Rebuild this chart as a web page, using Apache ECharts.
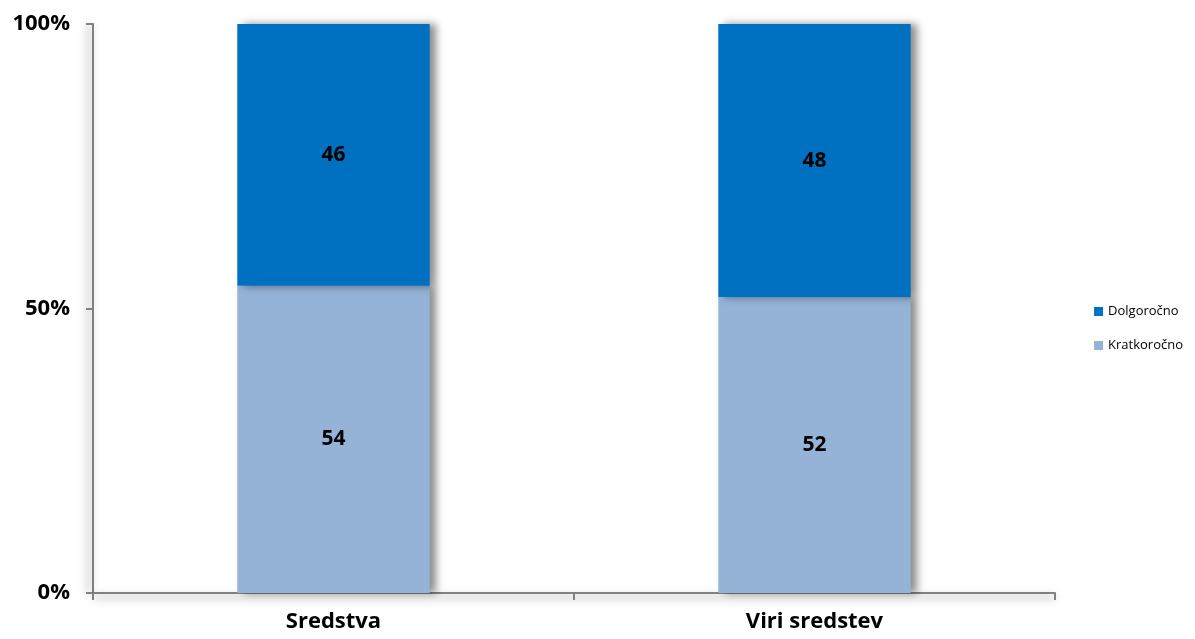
<!DOCTYPE html>
<html><head><meta charset="utf-8">
<script src="https://cdn.jsdelivr.net/npm/echarts@6/dist/echarts.min.js"></script>
<style>html,body{margin:0;padding:0;background:#fff}#c{width:1195px;height:639px}</style>
</head><body><div id="c"></div>
<script>
const categories = ['Sredstva', 'Viri sredstev'];
const kratkorocno = [54, 52];
const dolgorocno = [46, 48];
const yTicks = [0, 50, 100];

const chart = echarts.init(document.getElementById('c'));
const font = '"Open Sans", sans-serif';
const shadow = {shadowColor: 'rgba(0,0,0,0.45)', shadowBlur: 8, shadowOffsetX: 6, shadowOffsetY: 0};
chart.setOption({
  animation: false,
  grid: {left: 93, right: 140, top: 24, bottom: 46},
  legend: {
    orient: 'vertical', right: 7, top: 300, itemWidth: 9, itemHeight: 9, itemGap: 21, icon: 'rect',
    textStyle: {fontFamily: font, fontSize: 13, color: '#000'},
    data: ['Dolgoročno', 'Kratkoročno']
  },
  xAxis: {
    type: 'category', data: categories,
    axisLine: {lineStyle: {color: '#808080', width: 2, ...shadow, shadowOffsetX: 0, shadowOffsetY: 4}},
    axisTick: {show: true, length: 7, lineStyle: {color: '#808080', width: 2}},
    axisLabel: {fontFamily: font, fontWeight: 'bold', fontSize: 22, color: '#000', margin: 18}
  },
  yAxis: {
    type: 'value', min: 0, max: 100, interval: 50,
    axisLine: {show: true, lineStyle: {color: '#808080', width: 2, ...shadow, shadowOffsetX: -4}},
    axisTick: {show: true, length: 7, lineStyle: {color: '#808080', width: 2}},
    splitLine: {show: false},
    axisLabel: {fontFamily: font, fontWeight: 'bold', fontSize: 22, color: '#000', margin: 23,
      formatter: v => yTicks.includes(v) ? v + '%' : ''}
  },
  series: [
    {name: 'Kratkoročno', type: 'bar', stack: 'a', data: kratkorocno, barWidth: '40%',
      itemStyle: {color: '#95B3D7', ...shadow},
      label: {show: true, position: 'inside', fontFamily: font, fontWeight: 'bold', fontSize: 21, color: '#000'}},
    {name: 'Dolgoročno', type: 'bar', stack: 'a', data: dolgorocno, barWidth: '40%',
      itemStyle: {color: '#0070C0', ...shadow},
      label: {show: true, position: 'inside', fontFamily: font, fontWeight: 'bold', fontSize: 21, color: '#000'}}
  ]
});
</script></body></html>
